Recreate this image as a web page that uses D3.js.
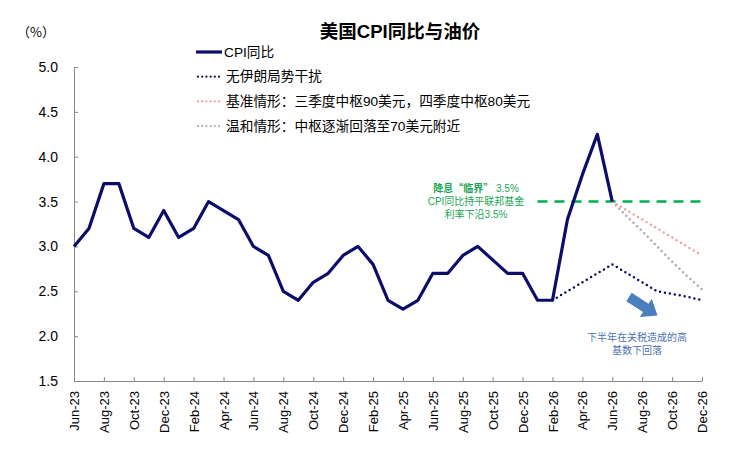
<!DOCTYPE html>
<html>
<head>
<meta charset="utf-8">
<script src="https://cdn.jsdelivr.net/npm/d3@7"></script>
<style>
  body { margin: 0; background: #fff; }
  text { font-family: "Liberation Sans", "Noto Sans CJK SC", sans-serif; }
</style>
</head>
<body>
<div id="chart"></div>
<script>
// month categories, Jun-23 .. Dec-26
const months = [
  "Jun-23","Jul-23","Aug-23","Sep-23","Oct-23","Nov-23","Dec-23",
  "Jan-24","Feb-24","Mar-24","Apr-24","May-24","Jun-24","Jul-24","Aug-24","Sep-24","Oct-24","Nov-24","Dec-24",
  "Jan-25","Feb-25","Mar-25","Apr-25","May-25","Jun-25","Jul-25","Aug-25","Sep-25","Oct-25","Nov-25","Dec-25",
  "Jan-26","Feb-26","Mar-26","Apr-26","May-26","Jun-26","Jul-26","Aug-26","Sep-26","Oct-26","Nov-26","Dec-26"
];

// CPI yoy, Jun-23 .. Jun-26
const cpi = [3.0, 3.2, 3.7, 3.7, 3.2, 3.1, 3.4,
  3.1, 3.2, 3.5, 3.4, 3.3, 3.0, 2.9, 2.5, 2.4, 2.6, 2.7, 2.9,
  3.0, 2.8, 2.4, 2.3, 2.4, 2.7, 2.7, 2.9, 3.0, 2.85, 2.7, 2.7,
  2.4, 2.4, 3.3, 3.8, 4.25, 3.5];

// scenarios
const noIranStart = "Feb-26";
const noIran = [2.4, 2.5, 2.6, 2.7, 2.8, 2.7, 2.6, 2.5, 2.47, 2.44, 2.4];
const baseStart = "Jun-26";
const baseCase = [3.5, 3.4, 3.3, 3.2, 3.1, 3.0, 2.9];
const mildStart = "Jun-26";
const mildCase = [3.5, 3.33, 3.17, 3.0, 2.83, 2.67, 2.52];

const threshold = 3.5;
const thresholdFrom = "Jan-26";

const yTicks = [1.5, 2.0, 2.5, 3.0, 3.5, 4.0, 4.5, 5.0];
const xTickLabels = months.filter((d, i) => i % 2 === 0);

const legendNames = ["CPI同比", "无伊朗局势干扰",
  "基准情形：三季度中枢90美元，四季度中枢80美元", "温和情形：中枢逐渐回落至70美元附近"];

const width = 736, height = 460;
const plotLeft = 74, plotRight = 702, plotTop = 67, plotBottom = 381;

const svg = d3.select("#chart").append("svg")
  .attr("width", width)
  .attr("height", height);

const x = d3.scalePoint().domain(months).range([plotLeft, plotRight]);
const y = d3.scaleLinear().domain([1.5, 5.0]).range([plotBottom, plotTop]);

// title
svg.append("text")
  .attr("x", 400).attr("y", 38)
  .attr("text-anchor", "middle")
  .style("font-size", "18.5px").style("font-weight", "bold")
  .text("美国CPI同比与油价");

svg.append("text")
  .attr("x", 17).attr("y", 37)
  .style("font-size", "13px")
  .style("font-family", "'Noto Sans CJK SC'")
  .text("（%）");

// axes
const yAxis = d3.axisLeft(y).tickValues(yTicks).tickFormat(d3.format(".1f")).tickSize(-4).tickPadding(16);
svg.append("g").attr("transform", "translate(" + plotLeft + ",0)").call(yAxis)
  .call(g => g.selectAll("text").style("font-size", "14px").attr("fill", "#000"));

const xAxis = d3.axisBottom(x).tickValues(xTickLabels).tickSize(-4).tickSizeOuter(0);
const xg = svg.append("g").attr("transform", "translate(0," + plotBottom + ")").call(xAxis);
xg.selectAll("text")
  .style("font-size", "13px").attr("fill", "#000")
  .attr("transform", "rotate(-90)")
  .attr("text-anchor", "end")
  .attr("x", -10).attr("y", 0).attr("dy", "0.35em");

svg.selectAll(".domain, .tick line").attr("stroke", "#888");

// threshold dashed line
svg.append("line")
  .attr("x1", x(thresholdFrom)).attr("x2", plotRight)
  .attr("y1", y(threshold)).attr("y2", y(threshold))
  .attr("stroke", "#00b050").attr("stroke-width", 2.5)
  .attr("stroke-dasharray", "10 7");

const line = d3.line().x(d => x(d[0])).y(d => y(d[1]));
const seg = (start, vals) => {
  const i0 = months.indexOf(start);
  return vals.map((v, i) => [months[i0 + i], v]);
};

const dotted = [
  { data: seg(mildStart, mildCase), color: "#b0a8b4" },
  { data: seg(baseStart, baseCase), color: "#e8a4a4" },
  { data: seg(noIranStart, noIran), color: "#0c0c6a" }
];
dotted.forEach(s => {
  svg.append("path")
    .attr("d", line(s.data))
    .attr("fill", "none")
    .attr("stroke", s.color)
    .attr("stroke-width", 2.5)
    .attr("stroke-linecap", "round")
    .attr("stroke-dasharray", "0 5");
});

svg.append("path")
  .attr("d", line(cpi.map((v, i) => [months[i], v])))
  .attr("fill", "none")
  .attr("stroke", "#0c0c6a")
  .attr("stroke-width", 3.2)
  .attr("stroke-linejoin", "round");

// legend
const legendColors = ["#0c0c6a", "#0c0c6a", "#e8a4a4", "#b0a8b4"];
const lg = svg.append("g");
legendNames.forEach((name, i) => {
  const ly = 52 + i * 24.7;
  const ln = lg.append("line")
    .attr("x1", i === 0 ? 196 : 198).attr("x2", i === 0 ? 222 : 219)
    .attr("y1", ly).attr("y2", ly)
    .attr("stroke", legendColors[i]);
  if (i === 0) ln.attr("stroke-width", 3.2);
  else ln.attr("stroke-width", 2.2).attr("stroke-linecap", "round").attr("stroke-dasharray", "0 4.2");
  lg.append("text")
    .attr("x", i === 0 ? 224 : 226).attr("y", ly).attr("dy", "0.35em")
    .style("font-size", "13.7px")
    .text(name);
});

// annotations
const green = svg.append("text").attr("fill", "#1aa653").attr("text-anchor", "middle").style("font-size", "10px");
const g1 = green.append("tspan").attr("x", 476).attr("y", 192);
g1.append("tspan").style("font-weight", "bold").style("font-family", "'Noto Sans CJK SC'").text("降息“临界”");
g1.append("tspan").text(" 3.5%");
["CPI同比持平联邦基金", "利率下沿3.5%"].forEach((t, i) => {
  green.append("tspan").attr("x", 476).attr("y", 205 + i * 13).text(t);
});

// blue arrow
const arrow = d3.path();
arrow.moveTo(0, -5); arrow.lineTo(20, -5); arrow.lineTo(20, -11);
arrow.lineTo(34, 0); arrow.lineTo(20, 11); arrow.lineTo(20, 5); arrow.lineTo(0, 5); arrow.closePath();
svg.append("path")
  .attr("d", arrow.toString())
  .attr("fill", "#4a7ebf")
  .attr("transform", "translate(629,297) rotate(33)");

const blue = svg.append("text").attr("fill", "#4a72b0").attr("text-anchor", "middle").style("font-size", "10px");
["下半年在关税造成的高", "基数下回落"].forEach((t, i) => {
  blue.append("tspan").attr("x", 637).attr("y", 341 + i * 13).text(t);
});
</script>
</body>
</html>
